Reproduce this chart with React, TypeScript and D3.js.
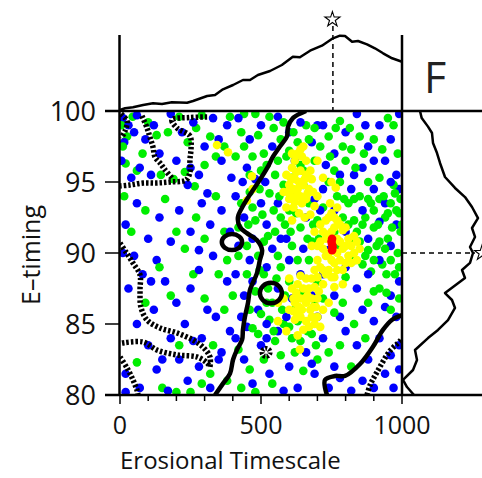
import React, { useEffect } from 'react';
import * as d3 from 'd3';

// axis ticks
const xMajor = [0, 500, 1000];
const xMinor = [100, 200, 300, 400, 600, 700, 800, 900];
const yTicks = [80, 85, 90, 95, 100];

// marginal densities (arbitrary units)
const topX = [0, 18, 46, 82, 117, 149, 184, 238, 259, 309, 337, 365, 401, 436, 461, 489, 532, 574, 613, 638, 674, 716, 755, 780, 798, 823, 844, 876, 904, 933, 965, 1000];
const topD = [1, 2.7, 3.7, 6, 7.7, 7, 8.7, 8.3, 10, 15, 16, 21.7, 26, 31, 31, 36, 40, 46, 54.3, 53.7, 60.3, 65.3, 72.7, 75.3, 75, 69.3, 70, 66.7, 62.7, 57.7, 52.7, 49.3];
const rightE = [100, 99.5, 98.9, 98.45, 97.75, 97.04, 96.34, 95.35, 94.58, 93.94, 93.24, 92.46, 91.76, 91.13, 90.42, 90.0, 89.3, 88.8, 88.24, 87.18, 86.69, 86.13, 85.28, 84.58, 84.01, 83.17, 82.46, 81.76, 81.06, 80.56, 80.0];
const rightD = [18, 19.7, 26, 30, 31, 35, 38, 43, 53, 63, 70, 76, 70, 73, 68, 71, 68, 60, 63, 43, 50, 53, 46, 36, 26, 13, 15, 11, 1, 5, 12];
const bestX = 755;
const bestE = 90;

// contours [erosional, E-timing]
const solidMain: [number, number][] = [[660, 100], [613, 99.5], [596, 98.9], [592, 98.2], [567, 97.5], [543, 96.8], [525, 96.1], [504, 95.4], [479, 94.65], [454, 93.9], [433, 93.2], [418, 92.5], [426, 91.8], [450, 91.4], [486, 90.9], [504, 90.2], [496, 89.5], [486, 88.6], [461, 87.4], [454, 86.5], [443, 85.5], [436, 84.6], [433, 83.9], [415, 83.2], [401, 82.5], [390, 81.5], [365, 80.8], [337, 80]];
const solidRight: [number, number][] = [[734, 80], [727, 81.06], [763, 81.34], [798, 81.34], [851, 82.18], [897, 83.4], [933, 84.6], [965, 85.3], [1000, 85.63]];
const solidLoops = [
  { cx: 397, cy: 90.77, rx: 36, ry: 0.56 },
  { cx: 535, cy: 87.18, rx: 39, ry: 0.72 },
];
const dashed: [number, number][][] = [
  [[309, 99.58], [248, 99.54], [184, 99.37], [202, 98.8], [248, 98.24], [252, 97.39], [248, 96.55], [248, 95.7], [234, 95.14], [177, 95.0], [131, 94.93], [82, 94.93], [35, 94.79], [0, 94.72]],
  [[78, 99.65], [96, 98.8], [106, 98.17], [117, 97.46], [124, 96.76], [142, 96.34], [160, 95.85], [184, 95.28]],
  [[4, 99.79], [25, 99.3], [18, 98.6], [4, 98.1]],
  [[0, 90.7], [21, 90.07], [46, 89.3], [71, 88.45], [71, 87.39], [74, 86.2], [96, 85.28], [142, 84.72], [202, 84.37], [259, 83.87], [294, 83.38], [319, 82.68], [319, 81.97]],
  [[7, 83.66], [82, 83.73], [131, 83.17], [202, 82.82], [273, 82.68], [309, 82.25], [319, 81.97]],
  [[0, 82.68], [25, 81.9], [46, 81.06], [60, 80.35], [64, 80]],
  [[876, 80], [887, 80.7], [911, 81.6], [957, 83.1], [993, 83.8], [1000, 84]],
];
const dashedBlob = { cx: 518, cy: 83.0 };

// runs [erosional, E-timing]
const bluePts: [number, number][] = [
  [10, 99.5], [30, 99], [50, 98.5], [15, 97.8], [60, 99.7], [90, 98], [120, 99], [5, 96.5], [70, 96], [110, 95.5], [140, 97], [40, 95.3],
  [180, 99.8], [220, 98.5], [260, 99.2], [300, 97.5], [330, 99.5], [350, 98], [380, 99], [200, 96.5], [250, 96], [280, 95.5], [360, 96.5], [395, 95.3], [240, 94.8], [310, 94.2],
  [20, 92], [60, 93.5], [100, 91], [140, 92.5], [180, 90.8], [130, 89.5], [50, 89.8], [210, 93], [250, 91.5], [290, 93.5], [320, 92], [360, 93], [390, 91.5], [280, 90.2], [330, 89.8], [10, 90],
  [30, 87.5], [80, 88.5], [120, 86], [60, 85], [100, 83.5], [160, 88], [200, 86.5], [230, 85], [180, 84], [250, 87.5], [280, 88.8], [310, 86], [290, 84], [340, 85.5], [380, 88], [360, 83], [20, 81.5], [70, 80.5], [130, 81.8], [170, 80.3], [210, 82.5], [240, 81], [280, 82], [320, 80.5], [350, 82.5], [390, 84.5], [20, 80.2], [150, 82.5], [260, 83.8], [110, 88],
  [420, 99.5], [460, 98], [500, 99], [540, 97.5], [560, 99.6], [600, 98.5], [640, 99.2], [680, 97.8], [620, 96.5], [450, 96], [480, 95.2], [700, 99],
  [410, 94], [440, 92.5], [470, 91], [420, 90.5], [500, 93.5], [520, 92], [560, 93.5], [590, 91], [620, 94], [660, 92.5], [690, 93.8], [540, 90.3], [460, 89.5],
  [410, 88.5], [440, 87], [470, 88], [490, 86], [520, 89], [560, 87.5], [590, 85.5], [640, 88.5], [680, 87], [700, 85.5], [430, 85.5], [610, 86.8],
  [410, 84], [440, 82.5], [470, 80.8], [500, 83.5], [530, 81.5], [560, 84.5], [600, 82], [630, 80.5], [660, 83], [690, 81.5], [450, 84.8], [580, 80.3], [520, 84],
  [720, 99], [760, 97], [800, 98.5], [840, 99.8], [880, 97.5], [920, 99], [960, 98], [990, 99.8], [860, 96], [940, 96.5], [780, 95.5], [980, 95.5], [730, 96.2],
  [720, 94.5], [760, 93], [820, 94.5], [860, 93], [900, 94.5], [940, 93.5], [980, 92], [800, 91.5], [880, 91], [960, 90.5], [740, 90.2], [920, 92.2], [990, 94.5],
  [720, 88.5], [760, 87], [800, 89], [840, 87.5], [880, 88.5], [920, 89.5], [960, 87], [990, 88], [780, 85.5], [860, 86], [900, 85.2], [940, 86.2], [980, 85.5],
  [720, 84], [760, 82], [800, 84.5], [840, 83.5], [880, 82.5], [920, 84], [960, 82.8], [990, 83.5], [740, 80.5], [780, 81.2], [820, 80.3], [860, 81], [900, 80.5], [940, 81.5], [970, 80.5], [990, 81.8],
  [435, 95], [515, 95], [570, 91], [650, 90.3], [600, 89.5], [520, 85], [680, 82.2], [710, 93], [830, 95.5], [870, 99], [900, 96.5], [960, 95],
];
const greenPts: [number, number][] = [
  [5, 99], [25, 98.2], [45, 99.6], [80, 97], [100, 99.2], [130, 98.3], [20, 96.3], [60, 95.8], [145, 95.5], [10, 97.5],
  [170, 98.5], [210, 99.6], [240, 97.8], [270, 98.8], [290, 99.7], [320, 98.2], [340, 96.8], [370, 97.5], [390, 99.6], [230, 95.7], [265, 94.7], [300, 96.2], [190, 95.2],
  [40, 91.5], [90, 93], [160, 93.8], [200, 91.5], [230, 90.3], [270, 92.5], [300, 91], [340, 94], [370, 91.5], [380, 89.5], [15, 94],
  [140, 89], [90, 86.5], [180, 87], [210, 83.5], [260, 88.5], [300, 86.8], [330, 83.5], [370, 86], [320, 81.5], [380, 81], [250, 80.2], [60, 82.3], [150, 80.5], [200, 80.2], [290, 80.8], [350, 88.5],
  [430, 98.5], [480, 99.8], [510, 97], [530, 99.6], [570, 98], [590, 96.8], [630, 97.8], [660, 99], [690, 96.5], [470, 96.8], [550, 95.5], [610, 95.3], [650, 95.8], [500, 95.8], [410, 96.8], [440, 99.8],
  [430, 93.5], [460, 94.3], [480, 92.3], [510, 90.8], [530, 94.2], [550, 91.5], [570, 92.5], [600, 93], [610, 90.5], [640, 91.8], [670, 93.5], [700, 92.3], [450, 90.5], [490, 89.8], [580, 94.8], [650, 94.8], [680, 90.8], [420, 91.8], [560, 89.8], [630, 89.5],
  [420, 89.8], [450, 88.5], [480, 87.3], [510, 88.5], [540, 86.5], [570, 89], [600, 88], [620, 86], [650, 87.3], [670, 89.5], [700, 88], [460, 86], [530, 85.3], [580, 85], [630, 85.2], [690, 86.3], [400, 87],
  [420, 83.2], [460, 81.8], [490, 84.3], [510, 82.5], [540, 80.8], [570, 82.8], [600, 84.8], [620, 83], [650, 81.7], [680, 84.3], [700, 82.5], [480, 80.2], [550, 83.8], [430, 80.5],
  [740, 98.2], [780, 99.3], [820, 97.3], [850, 98.2], [900, 98], [930, 97.3], [970, 99], [760, 95.8], [800, 96.5], [710, 97.5],
  [720, 93.2], [740, 95], [770, 94], [790, 92.5], [810, 93.5], [830, 92.3], [850, 94], [870, 92.5], [890, 93.5], [900, 91.8], [920, 93.8], [940, 92.5], [950, 91], [960, 93.5], [980, 93], [995, 91.5], [850, 90.8], [870, 89.8], [910, 90.5], [930, 89.2], [960, 89.5], [985, 90], [890, 88.7], [830, 89.5], [780, 90.5], [760, 91.5], [800, 88.3], [820, 91], [880, 95], [920, 95.3], [970, 94.8], [995, 93.8], [940, 90.3], [990, 89],
  [720, 86.8], [760, 85.8], [790, 86.5], [830, 85], [870, 84], [740, 83], [780, 83.5], [820, 82], [900, 87.3], [960, 86], [990, 86.8],
  [440, 97.5], [460, 95.5], [490, 98.3], [520, 96.2], [545, 98.8], [560, 96.5], [580, 99.2], [600, 97.2], [615, 98.5], [640, 96.2], [670, 98], [690, 98.8], [455, 92], [470, 93.2], [495, 94.5], [505, 92.7], [525, 91.2], [545, 93], [565, 94], [585, 92], [605, 91.5], [625, 92.8], [665, 91], [685, 92], [705, 91], [495, 88.8], [525, 87.5], [555, 88.2], [585, 87], [545, 84.5], [575, 86], [610, 84], [640, 83.8], [665, 84.5], [695, 83.5], [520, 86.5], [470, 84.7], [500, 85.7],
  [860, 92], [880, 93.8], [900, 93], [915, 92], [935, 94], [950, 92.8], [965, 91.8], [975, 94.2], [990, 92.8], [860, 89.2], [880, 90.2], [900, 89.5], [920, 90.8], [945, 88.5], [975, 88.5], [1000, 92], [840, 91.5], [830, 93.8], [810, 92], [795, 93.8], [780, 95], [745, 96.8], [765, 98.8], [790, 97.5], [815, 98.8], [835, 96], [865, 97], [950, 99.5], [985, 97], [880, 86.5], [920, 87.5], [945, 87.2],
];
const yellowPts: [number, number][] = [
  [344, 97.6], [383, 97.1], [468, 95.4], [450, 93.7], [470, 94.5],
  [590, 95.5], [600, 94.8], [610, 96], [620, 95.2], [630, 94.5], [640, 95.8], [650, 94.8], [660, 95.5], [600, 93.8], [615, 93.2], [625, 94], [645, 93.5], [660, 93.8], [670, 94.5], [680, 95.2], [690, 93.3], [700, 94], [635, 92.8], [655, 92.5], [620, 96.5], [645, 96.8], [590, 93.2], [610, 92.3], [675, 92.7], [580, 94.3], [700, 96.5], [720, 95.3], [650, 97.5], [630, 97],
  [595, 94.3], [605, 95.3], [615, 94.5], [625, 95.7], [635, 95], [655, 95.2], [665, 94.2], [640, 94], [620, 93.6], [605, 94], [685, 94.3], [675, 95.8], [660, 96.5], [610, 97], [640, 97.3],
  [690, 91.5], [700, 90.5], [700, 89.5], [710, 92], [710, 90.8], [710, 89], [720, 91.5], [720, 90.3], [720, 88.8], [730, 92.3], [730, 91], [730, 89.8], [730, 88.5], [740, 92.5], [740, 91.3], [740, 90], [740, 88.8], [750, 92.8], [750, 91.5], [750, 89.5], [750, 88.3], [760, 92.5], [760, 91.8], [760, 89.3], [760, 88.3], [770, 92.3], [770, 91], [770, 90], [770, 88.8], [780, 92], [780, 90.8], [780, 89.5], [790, 91.6], [790, 90.3], [790, 88.8], [800, 91.8], [800, 90.5], [800, 89.3], [810, 91], [810, 89.8], [820, 90.5], [820, 89.3], [830, 91.2], [830, 90], [840, 90.8], [840, 89.5], [850, 90.3], [700, 88.3], [720, 87.8], [760, 87.6], [790, 87.8], [770, 93.2], [745, 93.5], [680, 90.5], [690, 88.8], [750, 95], [765, 94.6],
  [610, 87.5], [620, 86.5], [630, 87.8], [640, 86.8], [650, 87.5], [660, 86.5], [670, 87.5], [680, 86.8], [690, 87.6], [700, 86.8], [620, 85.3], [640, 85.5], [660, 85.2], [680, 85.5], [700, 85.5], [720, 86], [650, 84.6], [600, 86], [580, 86.8], [560, 85.2], [590, 84.5], [710, 84.8], [630, 84.2], [600, 88.2], [740, 86.5], [638, 83.2], [560, 86.5],
  [615, 86.8], [625, 87.2], [635, 86.2], [645, 86], [655, 86.8], [665, 87], [675, 86], [685, 86.2], [695, 86.2], [705, 87.3], [625, 85.8], [615, 85.9], [670, 84.8], [690, 85], [660, 88.2], [640, 88.4], [680, 88.2],
];
const redPts: [number, number][] = [[752, 91.0], [752, 90.6], [752, 90.2], [750, 90.8], [754, 90.4]];

const W = 482;
const H = 478;
const FONT = '"Open Sans", "DejaVu Sans", sans-serif';

export default function App() {
  useEffect(() => {
    document.body.style.margin = '0';
  }, []);

  const x = d3.scaleLinear().domain([0, 1000]).range([120, 402]);
  const y = d3.scaleLinear().domain([80, 100]).range([395, 111]);
  const yTop = d3.scaleLinear().domain([0, 80]).range([111, 31]);
  const xRight = d3.scaleLinear().domain([0, 80]).range([402, 482]);

  const topLine = d3.line<number>().x((_, i) => x(topX[i])).y((d) => yTop(d));
  const rightLine = d3.line<number>().x((d) => xRight(d)).y((_, i) => y(rightE[i]));
  const contour = d3.line<[number, number]>().x((d) => x(d[0])).y((d) => y(d[1])).curve(d3.curveCatmullRom);

  const mixed: [number, number, string][] = [];
  const n = Math.max(bluePts.length, greenPts.length);
  for (let i = 0; i < n; i++) {
    if (bluePts[i]) mixed.push([bluePts[i][0], bluePts[i][1], '#0000ff']);
    if (greenPts[i]) mixed.push([greenPts[i][0], greenPts[i][1], '#00ee00']);
  }

  const star = d3.symbol().type(d3.symbolStar).size(70)();
  const R = 4.3;

  return (
    <svg width={W} height={H} style={{ position: 'absolute', left: 0, top: 0 }} fontFamily={FONT}>
      <defs>
        <clipPath id="plot">
          <rect x={120} y={111} width={282} height={284} />
        </clipPath>
      </defs>
      <rect width={W} height={H} fill="#fff" />

      <g clipPath="url(#plot)">
        {mixed.map((p, i) => (
          <circle key={'m' + i} cx={x(p[0])} cy={y(p[1])} r={R} fill={p[2]} />
        ))}
        {yellowPts.map((p, i) => (
          <circle key={'y' + i} cx={x(p[0])} cy={y(p[1])} r={R} fill="#ffff00" />
        ))}
        {redPts.map((p, i) => (
          <circle key={'r' + i} cx={x(p[0])} cy={y(p[1])} r={R} fill="#ff0000" />
        ))}

        <path d={contour(solidMain) ?? ''} fill="none" stroke="#000" strokeWidth={4.5} />
        <path d={contour(solidRight) ?? ''} fill="none" stroke="#000" strokeWidth={4.5} />
        {solidLoops.map((l, i) => (
          <ellipse key={'l' + i} cx={x(l.cx)} cy={y(l.cy)} rx={x(l.rx) - x(0)} ry={y(80) - y(80 + l.ry)} fill="none" stroke="#000" strokeWidth={4.5} />
        ))}
        {dashed.map((c, i) => (
          <path key={'d' + i} d={contour(c) ?? ''} fill="none" stroke="#000" strokeWidth={5.5} strokeDasharray="2.5,2" />
        ))}
        <circle cx={x(dashedBlob.cx)} cy={y(dashedBlob.cy)} r={4} fill="none" stroke="#000" strokeWidth={5} strokeDasharray="2,1.5" />
      </g>

      {/* marginal curves */}
      <path d={topLine(topD) ?? ''} fill="none" stroke="#000" strokeWidth={2.5} strokeLinejoin="round" />
      <path d={rightLine(rightD) ?? ''} fill="none" stroke="#000" strokeWidth={2.5} strokeLinejoin="round" />

      {/* best-fit markers */}
      <line x1={x(bestX)} x2={x(bestX)} y1={26} y2={111} stroke="#000" strokeWidth={1.5} strokeDasharray="5,4" />
      <path d={star ?? ''} transform={`translate(${x(bestX) - 0.5},${19.5})`} fill="#fff" stroke="#000" strokeWidth={1.1} />
      <line x1={402} x2={475} y1={y(bestE)} y2={y(bestE)} stroke="#000" strokeWidth={1.5} strokeDasharray="5,4" />
      <path d={star ?? ''} transform={`translate(${482},${y(bestE)})`} fill="#fff" stroke="#000" strokeWidth={1.1} />

      {/* frame lines */}
      <line x1={119.5} x2={119.5} y1={35} y2={395} stroke="#000" strokeWidth={2.5} />
      <line x1={402} x2={402} y1={35} y2={395} stroke="#000" strokeWidth={2.5} />
      <line x1={105} x2={482} y1={111} y2={111} stroke="#000" strokeWidth={2.5} />
      <line x1={105} x2={482} y1={395} y2={395} stroke="#000" strokeWidth={2.5} />

      {/* x axis */}
      {xMajor.map((t) => (
        <g key={'xt' + t}>
          <line x1={x(t)} x2={x(t)} y1={395} y2={404} stroke="#000" strokeWidth={1.5} />
          <text x={x(t)} y={434} textAnchor="middle" fontSize={25} fill="#111">{t}</text>
        </g>
      ))}
      {xMinor.map((t) => (
        <line key={'xm' + t} x1={x(t)} x2={x(t)} y1={395} y2={401} stroke="#000" strokeWidth={1.5} />
      ))}
      <text x={120} y={469} fontSize={24} fill="#111">Erosional Timescale</text>

      {/* y axis */}
      {yTicks.map((t) => (
        <g key={'yt' + t}>
          <line x1={105} x2={120} y1={y(t)} y2={y(t)} stroke="#000" strokeWidth={1.5} />
          <text x={96} y={y(t) + 10} textAnchor="end" fontSize={27} fill="#111">{t}</text>
        </g>
      ))}
      <text transform={`translate(40,${255}) rotate(-90)`} textAnchor="middle" fontSize={25} fill="#111">E–timing</text>

      <text x={424} y={93} fontSize={43} fill="#222">F</text>
    </svg>
  );
}
